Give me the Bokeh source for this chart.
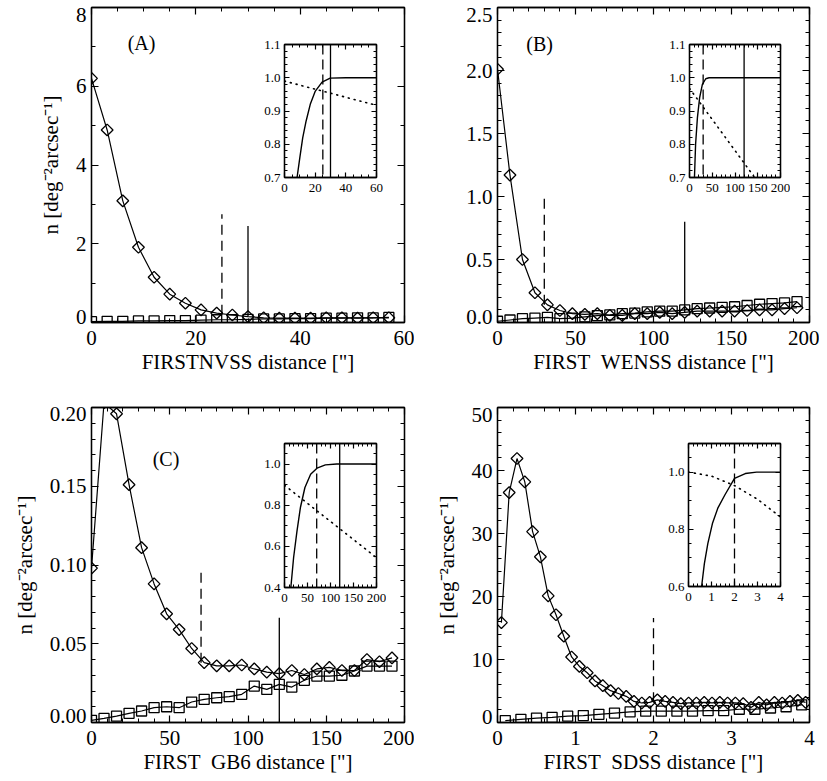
import numpy as np
from bokeh.plotting import figure
from bokeh.models import (LinearAxis, FixedTicker, PrintfTickFormatter, CustomJSTickFormatter,
                          Span, Column, Range1d, Grid)
from bokeh.embed import file_html
from bokeh.resources import INLINE
from bokeh.core.properties import value

FONT = "Liberation Serif"

# ---------------- Panel A : FIRST-NVSS ----------------
A_x = [0, 3, 6, 9, 12, 15, 18, 21, 24, 27, 30, 33, 36, 39, 42, 45, 48, 51, 54, 57]
A_diam = [6.20, 4.89, 3.09, 1.91, 1.15, 0.72, 0.49, 0.32, 0.24, 0.19, 0.15, 0.12, 0.11, 0.11,
          0.11, 0.12, 0.12, 0.11, 0.12, 0.12]
A_sq = [0.02, 0.03, 0.03, 0.04, 0.04, 0.05, 0.05, 0.06, 0.07, 0.07, 0.08, 0.09, 0.09, 0.10,
        0.10, 0.11, 0.11, 0.12, 0.12, 0.13]
A_vx = [25, 30]
A_vy0 = [0.20, 0.15]
A_vy1 = [2.75, 2.45]
A_in_cx = [8.2, 10.0, 11.9, 14.1, 16.8, 20.1, 24.5, 29.8, 40.0, 60.0]
A_in_cy = [0.70, 0.76, 0.82, 0.87, 0.92, 0.96, 0.987, 0.999, 1.0, 1.0]
A_in_dx = [0, 60]
A_in_dy = [0.99, 0.917]
A_in_dash = 25
A_in_solid = 30

# ---------------- Panel B : FIRST-WENSS ----------------
B_x = [0, 8, 16, 24, 32, 40, 48, 56, 64, 72, 80, 88, 96, 104, 112, 120, 128, 136, 144, 152,
       160, 168, 176, 184, 192]
B_diam = [2.01, 1.17, 0.50, 0.236, 0.14, 0.095, 0.07, 0.065, 0.07, 0.056, 0.056, 0.07, 0.07,
          0.08, 0.07, 0.08, 0.09, 0.09, 0.09, 0.09, 0.095, 0.10, 0.10, 0.11, 0.117]
B_sq = [0.01, 0.02, 0.03, 0.035, 0.04, 0.03, 0.035, 0.045, 0.055, 0.06, 0.07, 0.075, 0.085,
        0.09, 0.09, 0.10, 0.11, 0.115, 0.12, 0.125, 0.135, 0.145, 0.15, 0.155, 0.165]
B_vx = [30, 120]
B_vy0 = [0.14, 0.08]
B_vy1 = [1.0, 0.80]
B_in_cx = [10.9, 13.4, 17.4, 22.3, 28.3, 35.7, 43.0, 200.0]
B_in_cy = [0.70, 0.80, 0.88, 0.94, 0.98, 0.997, 1.0, 1.0]
B_in_dx = [0, 200]
B_in_dy = [0.968, 0.594]
B_in_dash = 30
B_in_solid = 120

# ---------------- Panel C : FIRST-GB6 ----------------
C_x = B_x
C_diam = [0.098, 0.203, 0.196, 0.151, 0.111, 0.088, 0.069, 0.059, 0.047, 0.038, 0.036, 0.036,
          0.0365, 0.034, 0.032, 0.031, 0.033, 0.0305, 0.034, 0.035, 0.033, 0.033, 0.040,
          0.0386, 0.041]
C_sq = [0.0014, 0.0026, 0.004, 0.0058, 0.0073, 0.0094, 0.010, 0.0094, 0.013, 0.0147, 0.0157,
        0.0164, 0.0179, 0.0231, 0.021, 0.0242, 0.0225, 0.0268, 0.0295, 0.0295, 0.030, 0.0327,
        0.0358, 0.0358, 0.0358]
C_vx = [70, 120]
C_vy0 = [0.038, 0.0]
C_vy1 = [0.096, 0.0665]
C_in_cx = [13.8, 19.8, 27.2, 34.6, 44.4, 56.8, 70.6, 88.9, 113.6, 200.0]
C_in_cy = [0.40, 0.546, 0.675, 0.789, 0.886, 0.951, 0.98, 0.996, 1.0, 1.0]
C_in_dx = [0, 200]
C_in_dy = [0.897, 0.545]
C_in_dash = 70
C_in_solid = 120

# ---------------- Panel D : FIRST-SDSS ----------------
D_xd = [0.05, 0.15, 0.25, 0.35, 0.45, 0.55, 0.65, 0.75, 0.85, 0.95, 1.05, 1.15, 1.25, 1.35,
        1.45, 1.55, 1.65, 1.75, 1.85, 1.95, 2.05, 2.15, 2.25, 2.35, 2.45, 2.55, 2.65, 2.75,
        2.85, 2.95, 3.05, 3.15, 3.25, 3.35, 3.45, 3.55, 3.65, 3.75, 3.85, 3.95]
D_diam = [15.85, 36.5, 41.9, 38.2, 30.3, 26.3, 20.1, 17.1, 13.7, 10.4, 8.9, 7.9, 6.6, 5.85,
          5.05, 4.6, 4.15, 3.35, 3.1, 3.2, 3.6, 3.35, 3.2, 3.0, 3.1, 3.1, 3.2, 3.1, 3.2, 3.1,
          3.1, 3.0, 2.4, 3.2, 2.8, 3.2, 3.1, 3.35, 3.5, 3.2]
D_xs = [0.1, 0.3, 0.5, 0.7, 0.9, 1.1, 1.3, 1.5, 1.7, 1.9, 2.1, 2.3, 2.5, 2.7, 2.9, 3.1, 3.3,
        3.5, 3.7, 3.9]
D_sq = [0.3, 0.5, 0.7, 0.8, 1.0, 1.1, 1.3, 1.5, 1.7, 1.8, 1.8, 1.8, 1.8, 1.9, 1.9, 2.1, 2.1,
        2.3, 2.5, 2.8]
D_vx = [2.0]
D_vy0 = [3.2]
D_vy1 = [16.6]
D_in_cx = [0.57, 0.69, 0.84, 1.04, 1.28, 1.58, 2.0, 2.47, 2.96, 4.0]
D_in_cy = [0.60, 0.68, 0.75, 0.82, 0.875, 0.92, 0.978, 0.995, 1.0, 1.0]
D_in_dx = [0, 1, 2, 3, 4]
D_in_dy = [1.0, 0.986, 0.953, 0.905, 0.843]
D_in_dash = 2.0

# ---------------- axis labels / ticks ----------------
Y_LABEL = "n [deg\u207b\u00b2arcsec\u207b\u00b9]"
X_LABELS = ["FIRSTNVSS distance [\"]", "FIRST\u00a0\u00a0WENSS distance [\"]",
            "FIRST\u00a0\u00a0GB6 distance [\"]", "FIRST\u00a0\u00a0SDSS distance [\"]"]
PANEL_TAGS = ["(A)", "(B)", "(C)"]


def frange(a, b, s):
    return [round(float(v), 6) for v in np.arange(a, b + s / 2, s)]


def style_axis(ax, fs, labels, tick_in, minor_in, fmt=None):
    ax.axis_line_color = "black"
    ax.axis_line_width = 1.3
    ax.major_tick_line_color = "black"
    ax.major_tick_line_width = 1.2
    ax.major_tick_in = tick_in
    ax.major_tick_out = 0
    ax.minor_tick_line_color = "black"
    ax.minor_tick_in = minor_in
    ax.minor_tick_out = 0
    ax.major_label_text_font = FONT
    ax.major_label_text_font_size = fs
    ax.major_label_text_color = "black"
    ax.axis_label_text_font = FONT
    ax.axis_label_text_font_style = "normal"
    ax.axis_label_text_font_size = fs
    ax.axis_label_text_color = "black"
    if labels:
        if fmt:
            ax.formatter = PrintfTickFormatter(format=fmt)
    else:
        ax.formatter = CustomJSTickFormatter(code="return ''")
        ax.major_label_standoff = 0


def make_fig(frame_left, frame_top, fw, fh, bl, br, bt, bb, xr, yr, xt, xm, yt, ym,
             fs, tick_in, minor_in, xfmt, yfmt, xlabel=None, ylabel=None, inset=False):
    p = figure(width=bl + fw + br, height=bt + fh + bb,
               x_range=Range1d(*xr), y_range=Range1d(*yr),
               output_backend="svg", toolbar_location=None,
               x_axis_location=None, y_axis_location=None,
               min_border_left=bl, min_border_right=br,
               min_border_top=bt, min_border_bottom=bb)
    p.styles = {"position": "absolute",
                "left": f"{frame_left - bl}px",
                "top": f"{frame_top - bt}px"}
    p.center = [r for r in p.center if not isinstance(r, Grid)]
    p.outline_line_color = "black"
    p.outline_line_width = 1.3
    if inset:
        p.background_fill_color = None
        p.border_fill_color = None
    else:
        p.background_fill_color = "white"
        p.border_fill_color = None
    for loc in ("below", "above"):
        ax = LinearAxis(ticker=FixedTicker(ticks=xt, minor_ticks=xm))
        style_axis(ax, fs, loc == "below", tick_in, minor_in, xfmt)
        if loc == "below":
            ax.major_label_standoff = 8 if not inset else 6
            if xlabel:
                ax.axis_label = xlabel
                ax.axis_label_standoff = 2
        p.add_layout(ax, loc)

    if inset:
        ax = LinearAxis(ticker=FixedTicker(ticks=yt, minor_ticks=ym))
        style_axis(ax, fs, True, tick_in, minor_in, yfmt)
        ax.major_label_standoff = 4
        p.add_layout(ax, "left")
    else:
        # inner left axis: tick marks only (closest to the frame)
        marks = LinearAxis(ticker=FixedTicker(ticks=yt, minor_ticks=ym))
        style_axis(marks, fs, False, tick_in, minor_in)
        p.add_layout(marks, "left")
        # outer left axis: labels only; the two end labels sit inside the frame span,
        # as in the original figure (shifted a few pixels from the frame edges)
        per_px = (yr[1] - yr[0]) / fh
        pos = list(yt)
        pos[0] = round(yt[0] + 6 * per_px, 6)
        pos[-1] = round(yt[-1] - 7 * per_px, 6)
        labs = LinearAxis(ticker=FixedTicker(ticks=pos, minor_ticks=[]))
        style_axis(labs, fs, True, 0, 0, yfmt)
        labs.formatter = CustomJSTickFormatter(args={"labels": [yfmt % v for v in yt]},
                                               code="return labels[index];")
        labs.axis_line_color = None
        labs.major_tick_line_color = None
        labs.minor_tick_line_color = None
        labs.major_label_standoff = 5
        if ylabel:
            labs.axis_label = ylabel
            labs.axis_label_standoff = 10
        p.add_layout(labs, "left")

    ax = LinearAxis(ticker=FixedTicker(ticks=yt, minor_ticks=ym))
    style_axis(ax, fs, False, tick_in, minor_in)
    p.add_layout(ax, "right")
    return p


def add_series(p, x, yd, xs, ys):
    p.line(xs, ys, line_color="black", line_width=1.2)
    p.scatter(xs, ys, marker="square", size=10, fill_color=None, line_color="black",
              line_width=1.3)
    p.line(x, yd, line_color="black", line_width=1.2)
    p.scatter(x, yd, marker="square", size=8.3, angle=np.pi / 4, fill_color=None,
              line_color="black", line_width=1.3)


def add_vlines(p, vx, vy0, vy1, styles):
    for xx, a, b, st in zip(vx, vy0, vy1, styles):
        p.segment(x0=[xx], y0=[a], x1=[xx], y1=[b], line_color="black", line_width=1.3,
                  line_dash=st)


def add_inset(p, cx, cy, dx, dy, dash_x, solid_x):
    p.line(cx, cy, line_color="black", line_width=1.4)
    p.line(dx, dy, line_color="black", line_width=1.6, line_dash="1 5", line_cap="round")
    p.add_layout(Span(location=dash_x, dimension="height", line_color="black",
                      line_width=1.3, line_dash="10 5"))
    if solid_x is not None:
        p.add_layout(Span(location=solid_x, dimension="height", line_color="black",
                          line_width=1.3))


MFS = "21px"
IFS = "13px"

# ---- main A ----
pA = make_fig(91, 7, 314, 315, 83, 9, 11, 60, (0, 60), (0, 8),
              [0, 20, 40, 60], frange(0, 60, 5), [0, 2, 4, 6, 8], frange(0, 8, 1),
              MFS, 7, 4, "%d", "%d", X_LABELS[0], Y_LABEL)
add_series(pA, A_x, A_diam, A_x, A_sq)
add_vlines(pA, A_vx, A_vy0, A_vy1, ["10 6", "solid"])
pA.text(x=[9.6], y=[7.1], text=[PANEL_TAGS[0]], text_font=value(FONT), text_font_size="20px",
        text_align="center", text_baseline="middle", text_color="black")

# ---- main B ----
pB = make_fig(495, 7, 314, 315, 81, 10, 11, 60, (0, 200), (0, 2.5),
              frange(0, 200, 50), frange(0, 200, 10), frange(0, 2.5, 0.5),
              frange(0, 2.5, 0.1), MFS, 7, 4, "%d", "%.1f", X_LABELS[1], None)
add_series(pB, B_x, B_diam, B_x, B_sq)
add_vlines(pB, B_vx, B_vy0, B_vy1, ["10 6", "solid"])
pB.text(x=[27], y=[2.21], text=[PANEL_TAGS[1]], text_font=value(FONT), text_font_size="20px",
        text_align="center", text_baseline="middle", text_color="black")

# ---- main C ----
pC = make_fig(90, 407, 315, 315, 82, 9, 12, 57, (0, 200), (0, 0.2),
              frange(0, 200, 50), frange(0, 200, 10), frange(0, 0.2, 0.05),
              frange(0, 0.2, 0.01), MFS, 7, 4, "%d", "%.2f", X_LABELS[2], Y_LABEL)
add_series(pC, C_x, C_diam, C_x, C_sq)
add_vlines(pC, C_vx, C_vy0, C_vy1, ["10 6", "solid"])
pC.text(x=[47.6], y=[0.167], text=[PANEL_TAGS[2]], text_font=value(FONT), text_font_size="20px",
        text_align="center", text_baseline="middle", text_color="black")

# ---- main D ----
pD = make_fig(495, 407, 314, 315, 81, 10, 12, 57, (0, 4), (0, 50),
              [0, 1, 2, 3, 4], frange(0, 4, 0.2), frange(0, 50, 10), frange(0, 50, 2),
              MFS, 7, 4, "%d", "%d", X_LABELS[3], Y_LABEL)
add_series(pD, D_xd, D_diam, D_xs, D_sq)
add_vlines(pD, D_vx, D_vy0, D_vy1, ["10 6"])

# ---- insets ----
iA = make_fig(243, 44, 135, 133, 42, 8, 8, 28, (0, 60), (0.7, 1.1),
              [0, 20, 40, 60], frange(0, 60, 5), frange(0.7, 1.1, 0.1),
              frange(0.7, 1.1, 0.02), IFS, 5, 3, "%d", "%.1f", inset=True)
add_inset(iA, A_in_cx, A_in_cy, A_in_dx, A_in_dy, A_in_dash, A_in_solid)

iB = make_fig(648, 44, 134, 133, 42, 8, 8, 28, (0, 200), (0.7, 1.1),
              frange(0, 200, 50), frange(0, 200, 10), frange(0.7, 1.1, 0.1),
              frange(0.7, 1.1, 0.02), IFS, 5, 3, "%d", "%.1f", inset=True)
add_inset(iB, B_in_cx, B_in_cy, B_in_dx, B_in_dy, B_in_dash, B_in_solid)

iC = make_fig(243, 443, 135, 144, 42, 8, 8, 28, (0, 200), (0.4, 1.1),
              frange(0, 200, 50), frange(0, 200, 10), [0.4, 0.6, 0.8, 1.0],
              frange(0.4, 1.1, 0.05), IFS, 5, 3, "%d", "%.1f", inset=True)
add_inset(iC, C_in_cx, C_in_cy, C_in_dx, C_in_dy, C_in_dash, C_in_solid)

iD = make_fig(647, 443, 135, 143, 42, 8, 8, 28, (0, 4), (0.6, 1.1),
              [0, 1, 2, 3, 4], frange(0, 4, 0.2), [0.6, 0.8, 1.0],
              frange(0.6, 1.1, 0.05), IFS, 5, 3, "%d", "%.1f", inset=True)
add_inset(iD, D_in_cx, D_in_cy, D_in_dx, D_in_dy, D_in_dash, None)

p = Column(children=[pA, pB, pC, pD, iA, iB, iC, iD], width=811, height=765)

open("out.html", "w").write(file_html(p, INLINE))
